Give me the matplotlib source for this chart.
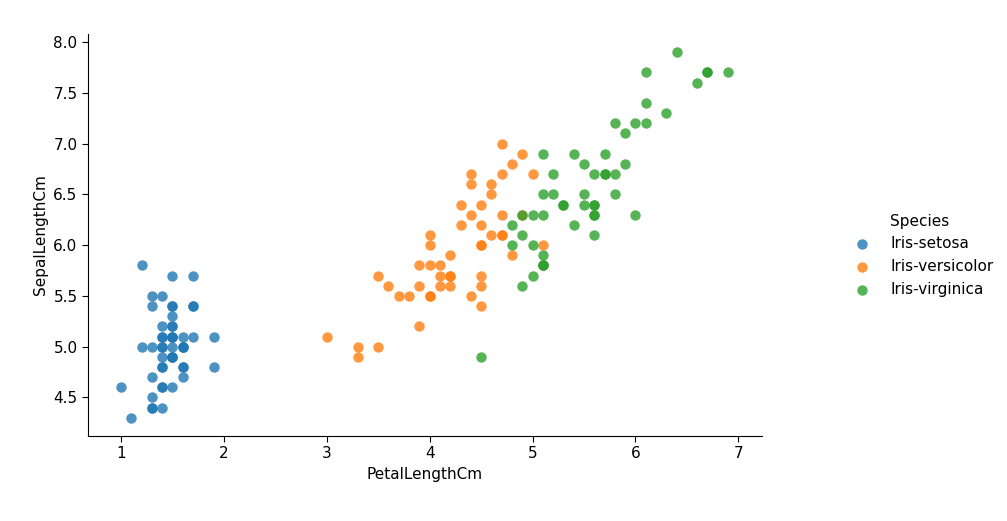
import numpy as np
import pandas as pd
import matplotlib
matplotlib.use('Agg')
import matplotlib.pyplot as plt

species = ['Iris-setosa', 'Iris-versicolor', 'Iris-virginica']

setosa_petal = [1.4, 1.4, 1.3, 1.5, 1.4, 1.7, 1.4, 1.5, 1.4, 1.5, 1.5, 1.6, 1.4, 1.1, 1.2,
                1.5, 1.3, 1.4, 1.7, 1.5, 1.7, 1.5, 1.0, 1.7, 1.9, 1.6, 1.6, 1.5, 1.4, 1.6,
                1.6, 1.5, 1.5, 1.4, 1.5, 1.2, 1.3, 1.5, 1.3, 1.5, 1.3, 1.3, 1.3, 1.6, 1.9,
                1.4, 1.6, 1.4, 1.5, 1.4]
setosa_sepal = [5.1, 4.9, 4.7, 4.6, 5.0, 5.4, 4.6, 5.0, 4.4, 4.9, 5.4, 4.8, 4.8, 4.3, 5.8,
                5.7, 5.4, 5.1, 5.7, 5.1, 5.4, 5.1, 4.6, 5.1, 4.8, 5.0, 5.0, 5.2, 5.2, 4.7,
                4.8, 5.4, 5.2, 5.5, 4.9, 5.0, 5.5, 4.9, 4.4, 5.1, 5.0, 4.5, 4.4, 5.0, 5.1,
                4.8, 5.1, 4.6, 5.3, 5.0]

versicolor_petal = [4.7, 4.5, 4.9, 4.0, 4.6, 4.5, 4.7, 3.3, 4.6, 3.9, 3.5, 4.2, 4.0, 4.7, 3.6,
                    4.4, 4.5, 4.1, 4.5, 3.9, 4.8, 4.0, 4.9, 4.7, 4.3, 4.4, 4.8, 5.0, 4.5, 3.5,
                    3.8, 3.7, 3.9, 5.1, 4.5, 4.5, 4.7, 4.4, 4.1, 4.0, 4.4, 4.6, 4.0, 3.3, 4.2,
                    4.2, 4.2, 4.3, 3.0, 4.1]
versicolor_sepal = [7.0, 6.4, 6.9, 5.5, 6.5, 5.7, 6.3, 4.9, 6.6, 5.2, 5.0, 5.9, 6.0, 6.1, 5.6,
                    6.7, 5.6, 5.8, 6.2, 5.6, 5.9, 6.1, 6.3, 6.1, 6.4, 6.6, 6.8, 6.7, 6.0, 5.7,
                    5.5, 5.5, 5.8, 6.0, 5.4, 6.0, 6.7, 6.3, 5.6, 5.5, 5.5, 6.1, 5.8, 5.0, 5.6,
                    5.7, 5.7, 6.2, 5.1, 5.7]

virginica_petal = [6.0, 5.1, 5.9, 5.6, 5.8, 6.6, 4.5, 6.3, 5.8, 6.1, 5.1, 5.3, 5.5, 5.0, 5.1,
                   5.3, 5.5, 6.7, 6.9, 5.0, 5.7, 4.9, 6.7, 4.9, 5.7, 6.0, 4.8, 4.9, 5.6, 5.8,
                   6.1, 6.4, 5.6, 5.1, 5.6, 6.1, 5.6, 5.5, 4.8, 5.4, 5.6, 5.1, 5.1, 5.9, 5.7,
                   5.2, 5.0, 5.2, 5.4, 5.1]
virginica_sepal = [6.3, 5.8, 7.1, 6.3, 6.5, 7.6, 4.9, 7.3, 6.7, 7.2, 6.5, 6.4, 6.8, 5.7, 5.8,
                   6.4, 6.5, 7.7, 7.7, 6.0, 6.9, 5.6, 7.7, 6.3, 6.7, 7.2, 6.2, 6.1, 6.4, 7.2,
                   7.4, 7.9, 6.4, 6.3, 6.1, 7.7, 6.3, 6.4, 6.0, 6.9, 6.7, 6.9, 5.8, 6.8, 6.7,
                   6.7, 6.3, 6.5, 6.2, 5.9]

df = pd.DataFrame({
    'PetalLengthCm': setosa_petal + versicolor_petal + virginica_petal,
    'SepalLengthCm': setosa_sepal + versicolor_sepal + virginica_sepal,
    'Species': [species[0]] * 50 + [species[1]] * 50 + [species[2]] * 50,
})

colors = ['#1f77b4', '#ff7f0e', '#2ca02c']

plt.rcParams['font.size'] = 11
plt.rcParams['xtick.major.size'] = 4
plt.rcParams['ytick.major.size'] = 4

fig = plt.figure(figsize=(10.07, 5.21), dpi=100)
ax = fig.add_axes([0.0874, 0.163, 0.6693, 0.772])

for sp, c in zip(species, colors):
    sub = df[df['Species'] == sp]
    ax.scatter(sub['PetalLengthCm'], sub['SepalLengthCm'], color=c, alpha=0.8,
               s=56, linewidths=0, label=sp)

ax.set_xlim(0.68, 7.23)
ax.spines['top'].set_visible(False)
ax.spines['right'].set_visible(False)
ax.set_xlabel('PetalLengthCm')
ax.set_ylabel('SepalLengthCm')

fig.legend(title='Species', title_fontsize=11, loc='center left',
           bbox_to_anchor=(0.827, 0.51), frameon=False, handletextpad=0.86)

plt.savefig('out.png', dpi=100)
